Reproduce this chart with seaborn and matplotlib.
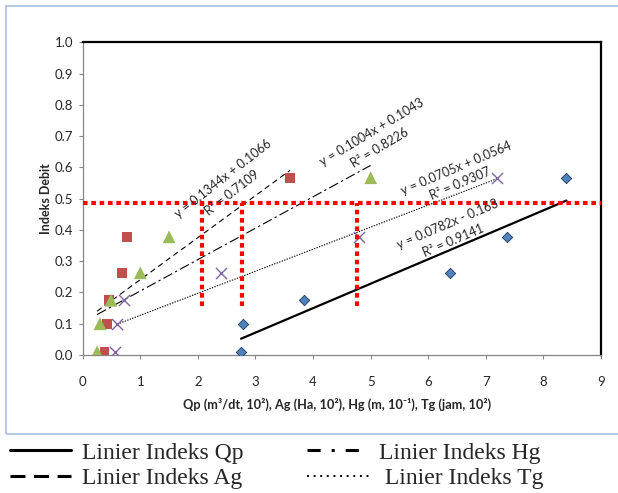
import matplotlib
matplotlib.use("Agg")
import matplotlib.pyplot as plt
from matplotlib.lines import Line2D
from matplotlib.patches import Rectangle
import seaborn as sns
import pandas as pd

# scatter data (x, Indeks Debit) for each parameter
qp_x = [2.75, 2.78, 3.85, 6.38, 7.37, 8.40]
qp_y = [0.01, 0.10, 0.175, 0.263, 0.378, 0.567]
ag_x = [0.38, 0.42, 0.46, 0.68, 0.77, 3.60]
ag_y = [0.01, 0.10, 0.175, 0.263, 0.378, 0.567]
hg_x = [0.25, 0.30, 0.49, 1.00, 1.50, 5.00]
hg_y = [0.01, 0.10, 0.175, 0.263, 0.378, 0.567]
tg_x = [0.56, 0.60, 0.71, 2.41, 4.80, 7.20]
tg_y = [0.01, 0.10, 0.175, 0.263, 0.378, 0.567]

# trendline coefficients and x span
trend_names = ["Qp", "Ag", "Hg", "Tg"]
trend_slope = [0.0782, 0.1344, 0.1004, 0.0705]
trend_icept = [-0.163, 0.1066, 0.1043, 0.0564]
trend_x0 = [2.75, 0.25, 0.25, 0.60]
trend_x1 = [8.40, 3.60, 5.00, 7.20]

# equation labels: text, position, angle
eq_text = ["y = 0.0782x - 0.163", "y = 0.1344x + 0.1066",
           "y = 0.1004x + 0.1043", "y = 0.0705x + 0.0564"]
r2_text = ["R² = 0.9141", "R² = 0.7109", "R² = 0.8226", "R² = 0.9307"]
eq_pos = [(6.34, 0.419), (2.44, 0.563), (5.02, 0.713), (6.48, 0.598)]
r2_pos = [(6.43, 0.365), (2.60, 0.518), (5.16, 0.662), (6.55, 0.547)]
eq_angle = [23, 38, 31, 23]

# red guide lines
guide_y = 0.487
guide_x = [2.07, 2.76, 4.77]
guide_bottom = 0.157

legend_labels = ["Linier Indeks Qp", "Linier Indeks Ag",
                 "Linier Indeks Hg", " Linier Indeks Tg"]

sns.set_style("white")
plt.rcParams["font.family"] = ["Lato", "DejaVu Sans"]

fig = plt.figure(figsize=(6.18, 4.93), dpi=100)
ax = fig.add_axes([82.7 / 618, 138 / 493, 518.3 / 618, 312.7 / 493])

# outer chart border
fig.patches.append(Rectangle((6 / 618, 59 / 493), 1.2, 428 / 493, transform=fig.transFigure,
                             fill=False, edgecolor="#a7bfde", lw=1.2))

series = [
    (qp_x, qp_y, "D", "#4f81bd", 28, "#1f3b5e", 0.6),
    (ag_x, ag_y, "s", "#c0504d", 48, "none", 0),
    (hg_x, hg_y, "^", "#9bbb59", 85, "none", 0),
    (tg_x, tg_y, "x", "#8064a2", 64, None, 1.0),
]
for xs, ys, mk, col, size, ec, lw in series:
    df = pd.DataFrame({"x": xs, "y": ys})
    if mk == "x":
        sns.scatterplot(data=df, x="x", y="y", ax=ax, marker=mk, color=col,
                        s=size, linewidth=lw, zorder=3)
    else:
        sns.scatterplot(data=df, x="x", y="y", ax=ax, marker=mk, color=col,
                        s=size, edgecolor=ec, linewidth=lw, zorder=3)

styles = [
    dict(ls="-", lw=1.6),
    dict(ls=(0, (5, 3.5)), lw=0.8),
    dict(ls=(0, (9, 3, 2, 3)), lw=0.8),
    dict(ls=(0, (1.2, 1.2)), lw=0.8),
]
for i, name in enumerate(trend_names):
    xs = [trend_x0[i], trend_x1[i]]
    line_df = pd.DataFrame({"x": xs,
                            "y": [trend_slope[i] * v + trend_icept[i] for v in xs]})
    sns.lineplot(data=line_df, x="x", y="y", ax=ax, color="black",
                 linestyle=styles[i]["ls"], linewidth=styles[i]["lw"], zorder=2)

# red dotted guides
ax.axhline(guide_y, color="#ff0000", lw=3, ls=(0, (1.1, 0.9)), zorder=4)
for gx in guide_x:
    ax.plot([gx, gx], [guide_bottom, guide_y], color="#ff0000", lw=3,
            ls=(0, (1.1, 0.9)), zorder=4)

for i in range(4):
    ax.text(*eq_pos[i], eq_text[i], rotation=eq_angle[i], rotation_mode="anchor",
            ha="center", va="center", fontsize=9, zorder=5)
    ax.text(*r2_pos[i], r2_text[i], rotation=eq_angle[i], rotation_mode="anchor",
            ha="center", va="center", fontsize=9, zorder=5)

ax.set_xlim(0, 9)
ax.set_ylim(0, 1)
ax.set_xticks(range(0, 10))
ax.set_yticks([i / 10 for i in range(11)])
ax.set_yticklabels([f"{i / 10:.1f}" for i in range(11)])
ax.tick_params(axis="both", direction="out", length=3, width=0.8, color="#868686",
               labelsize=9.5, bottom=True, left=True)
ax.tick_params(axis="x", pad=12)
ax.tick_params(axis="y", pad=4)
for side in ["left", "bottom"]:
    ax.spines[side].set_color("#868686")
    ax.spines[side].set_linewidth(0.9)
for side in ["top", "right"]:
    ax.spines[side].set_color("black")
    ax.spines[side].set_linewidth(1.6)

ax.set_ylabel("Indeks Debit", fontsize=9, fontweight="bold")
ax.yaxis.set_label_coords(-0.059, 0.5)
ax.set_xlabel("Qp (m³/dt, 10²), Ag (Ha, 10²), Hg (m, 10⁻¹), Tg (jam, 10²)",
              fontsize=9.2, fontweight="bold")
ax.xaxis.set_label_coords(0.49, -0.1375)

handles = [
    Line2D([], [], color="black", lw=2.2, ls="-"),
    Line2D([], [], color="black", lw=2.2, ls=(0, (4.9, 2.8))),
    Line2D([], [], color="black", lw=2.2, ls=(0, (4.3, 3.6, 1, 3.6))),
    Line2D([], [], color="black", lw=1.4, ls=(0, (1, 2.4))),
]
fig.legend(handles, legend_labels, ncol=2, loc="upper left",
           bbox_to_anchor=(10 / 618, 1 - 442 / 493), frameon=False,
           prop={"family": "Liberation Serif", "size": 17},
           handlelength=2.6, handletextpad=0.45, columnspacing=2.7,
           labelspacing=0.17, borderpad=0, borderaxespad=0)

fig.savefig("out.png", dpi=100)
